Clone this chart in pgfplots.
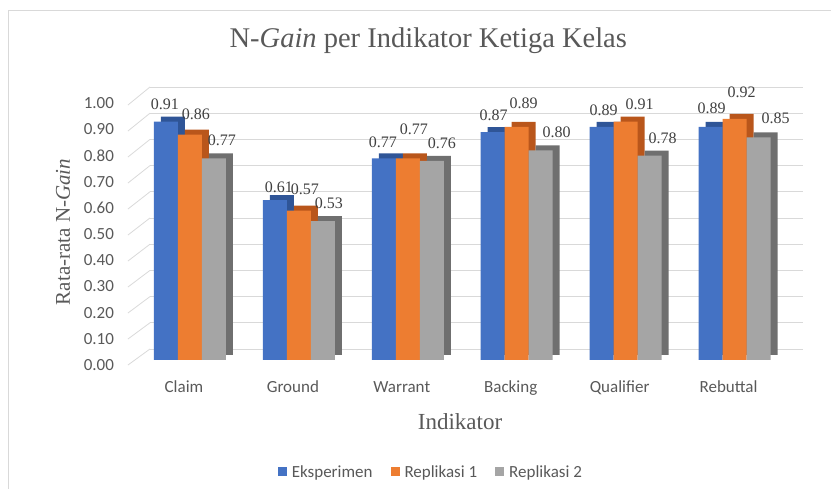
\documentclass[border=0pt]{standalone}
\usepackage{fontspec}
\setmainfont{Liberation Serif}
\newfontfamily\calibri{Carlito}
\usepackage{pgfplots}
\usepackage{pgfplotstable}
\pgfplotsset{compat=1.18}
\definecolor{cB}{HTML}{4472C4}
\definecolor{cBs}{HTML}{2F5597}
\definecolor{cO}{HTML}{ED7D31}
\definecolor{cOs}{HTML}{B9561B}
\definecolor{cG}{HTML}{A5A5A5}
\definecolor{cGs}{HTML}{6F6F6F}
\definecolor{tgray}{HTML}{595959}
\definecolor{lgray}{HTML}{404040}
\definecolor{gridc}{HTML}{D9D9D9}

\pgfplotstableread{
x y dx dy
0 0.91 -1 17
1 0.61 4 13
2 0.77 -1 16
3 0.87 1 17
4 0.89 2 17
5 0.89 1 19
}\eks
\pgfplotstableread{
x y dx dy
0 0.86 6 20
1 0.57 6 21
2 0.77 6 29
3 0.89 7 24
4 0.91 14 17
5 0.92 7 27
}\repa
\pgfplotstableread{
x y dx dy
0 0.77 8 18
1 0.53 6 18
2 0.76 10 18
3 0.80 16 18
4 0.78 13 17
5 0.85 17 19
}\repb

\begin{document}
\begin{tikzpicture}
\path[use as bounding box] (0,0) rectangle (831pt,489pt);
\draw[gridc, line width=0.8pt] (8pt,0pt) -- (8pt,479pt) -- (831pt,479pt);
\begin{axis}[
  at={(135.5pt,129pt)}, anchor=south west,
  scale only axis, width=653.5pt, height=262pt,
  xmin=-0.5, xmax=5.5, ymin=0, ymax=1,
  enlargelimits=false, clip=false,
  axis line style={draw=none}, major tick length=0pt,
  ytick={0,0.1,0.2,0.3,0.4,0.5,0.6,0.7,0.8,0.9,1},
  yticklabels={0.00,0.10,0.20,0.30,0.40,0.50,0.60,0.70,0.80,0.90,1.00},
  yticklabel style={font=\calibri\fontsize{17}{20}\selectfont, text=tgray, anchor=east, xshift=-18pt, yshift=-5pt},
  xtick={0,1,2,3,4,5},
  xticklabels={Claim,Ground,Warrant,Backing,Qualifier,Rebuttal},
  xticklabel style={font=\calibri\fontsize{17}{20}\selectfont, text=tgray, anchor=base, yshift=-33pt, xshift=-6pt},
  ymajorgrids,
  major grid style={draw=gridc, line width=0.8pt, xshift=14.5pt, yshift=11pt},
  title={N-\textit{Gain} per Indikator Ketiga Kelas},
  title style={at={(axis description cs:0.448,1.168)}, anchor=base, font=\fontsize{28.5}{34}\selectfont, text=tgray},
  ylabel={Rata-rata N-\textit{Gain}},
  ylabel style={at={(axis description cs:-0.111,0.489)}, anchor=center, font=\fontsize{21}{25}\selectfont, text=tgray},
  xlabel={Indikator},
  xlabel style={at={(axis description cs:0.4966,-0.267)}, anchor=base, font=\fontsize{23}{27}\selectfont, text=tgray},
  legend style={at={(axis description cs:0.452,-0.427)}, anchor=center, draw=none, fill=none,
    legend columns=3, font=\calibri\fontsize{17}{20}\selectfont, text=tgray,
    /tikz/every even column/.append style={column sep=16pt}},
  legend image code/.code={\fill[#1] (0pt,-4.5pt) rectangle (9pt,4.5pt); \path (12pt,0pt);},
  lbl/.style={
    nodes near coords={\pgfmathprintnumber[fixed,fixed zerofill,precision=2,assume math mode=true]{\pgfplotspointmeta}},
    visualization depends on={\thisrow{dx} \as \dx},
    visualization depends on={\thisrow{dy} \as \dy},
    every node near coord/.append style={anchor=center, inner sep=0pt, xshift={\dx pt + #1}, yshift=\dy pt,
      font=\fontsize{16}{19}\selectfont, text=lgray}},
]
% left wall slants
\foreach \v in {0,0.1,0.2,0.3,0.4,0.5,0.6,0.7,0.8,0.9,1.0} {
  \edef\tmp{\noexpand\draw[gridc, line width=0.8pt] (axis cs:-0.569,{(-5+260*\v)/262}) -- (axis cs:-0.367,{\v+0.042});}
  \tmp
}
\addplot[ybar, fill=cBs, draw=none, bar width=24pt, bar shift=-24pt, xshift=7pt, yshift=5pt, forget plot] table[x=x,y=y]{\eks};
\addplot[ybar, fill=cB, draw=none, bar width=24pt, bar shift=-24pt, lbl=-24pt] table[x=x,y=y]{\eks};
\addlegendentry{Eksperimen}
\addplot[ybar, fill=cOs, draw=none, bar width=24pt, bar shift=0pt, xshift=7pt, yshift=5pt, forget plot] table[x=x,y=y]{\repa};
\addplot[ybar, fill=cO, draw=none, bar width=24pt, bar shift=0pt, lbl=0pt] table[x=x,y=y]{\repa};
\addlegendentry{Replikasi 1}
\addplot[ybar, fill=cGs, draw=none, bar width=24pt, bar shift=24pt, xshift=7pt, yshift=5pt, forget plot] table[x=x,y=y]{\repb};
\addplot[ybar, fill=cG, draw=none, bar width=24pt, bar shift=24pt, lbl=24pt] table[x=x,y=y]{\repb};
\addlegendentry{Replikasi 2}
\end{axis}
\end{tikzpicture}
\end{document}
